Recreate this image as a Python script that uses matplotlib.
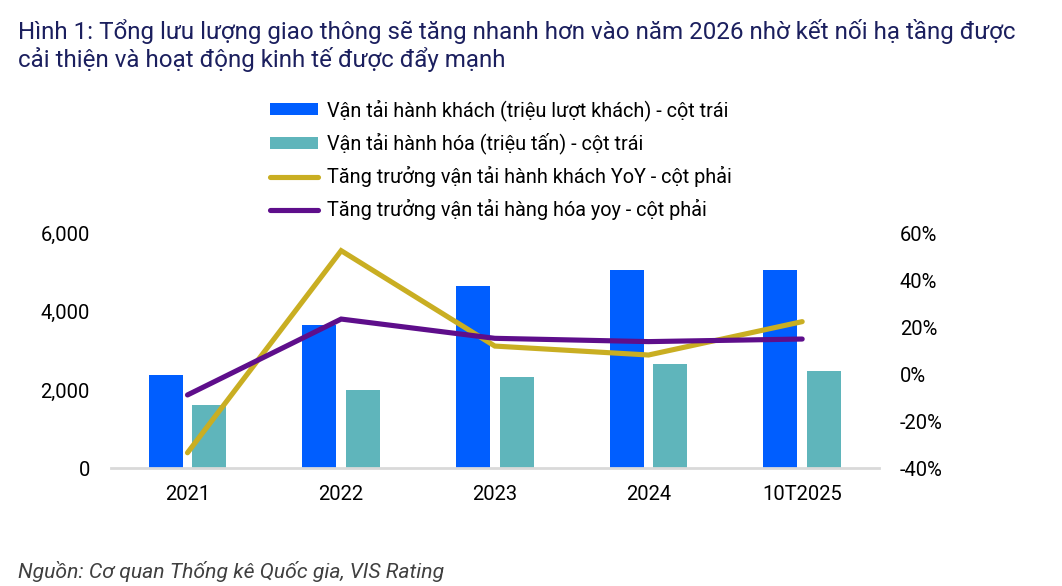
import matplotlib
matplotlib.use("Agg")
import matplotlib.pyplot as plt
import numpy as np
from matplotlib.lines import Line2D
from matplotlib.patches import Patch
from matplotlib.ticker import FuncFormatter

plt.rcParams["font.family"] = ["Roboto", "DejaVu Sans"]

# Data
years = ["2021", "2022", "2023", "2024", "10T2025"]
passengers = [2375, 3650, 4665, 5050, 5065]      # triệu lượt khách
cargo = [1610, 2000, 2330, 2665, 2485]           # triệu tấn
passenger_yoy = [-0.334, 0.526, 0.12, 0.082, 0.224]
cargo_yoy = [-0.088, 0.235, 0.153, 0.139, 0.15]

c_pass = "#005EFF"
c_cargo = "#5FB5BB"
c_gold = "#C9AE22"
c_purple = "#5E0E8B"

fig = plt.figure(figsize=(10.62, 5.86), dpi=100)
ax = fig.add_axes([0.1042, 0.2009, 0.7235, 0.401])
ax2 = ax.twinx()

x = np.arange(len(years))
w = 0.22
ax.bar(x - 0.142, passengers, width=w, color=c_pass, zorder=2)
ax.bar(x + 0.142, cargo, width=w, color=c_cargo, zorder=2)

ax2.plot(x, passenger_yoy, color=c_gold, lw=3.7, solid_capstyle="round", solid_joinstyle="miter")
ax2.plot(x, cargo_yoy, color=c_purple, lw=3.7, solid_capstyle="round", solid_joinstyle="miter")

ax.set_xlim(-0.5, len(years) - 0.5)
ax.set_ylim(0, 6000)
ax.set_yticks([0, 2000, 4000, 6000])
ax.yaxis.set_major_formatter(FuncFormatter(lambda v, p: f"{v:,.0f}"))
ax2.set_ylim(-0.4, 0.6)
ax2.set_yticks([-0.4, -0.2, 0, 0.2, 0.4, 0.6])
ax2.yaxis.set_major_formatter(FuncFormatter(lambda v, p: f"{v*100:.0f}%"))
ax.set_xticks(x)
ax.set_xticklabels(years)

for a in (ax, ax2):
    for s in ("top", "left", "right", "bottom"):
        a.spines[s].set_visible(False)
    a.tick_params(length=0, labelsize=14.5, colors="black")
ax.axhline(0, color="#D9D9D9", lw=2, zorder=3, clip_on=False)
ax.tick_params(axis="y", pad=15)
ax2.tick_params(axis="y", pad=15)
ax.tick_params(axis="x", pad=12)

handles = [
    Patch(facecolor=c_pass, edgecolor="none"),
    Patch(facecolor=c_cargo, edgecolor="none"),
    Line2D([], [], color=c_gold, lw=3.7, solid_capstyle="round"),
    Line2D([], [], color=c_purple, lw=3.7, solid_capstyle="round"),
]
labels = [
    "Vận tải hành khách (triệu lượt khách) - cột trái",
    "Vận tải hành hóa (triệu tấn) - cột trái",
    "Tăng trưởng vận tải hành khách YoY - cột phải",
    "Tăng trưởng vận tải hàng hóa yoy - cột phải",
]
fig.legend(handles, labels, loc="upper left", bbox_to_anchor=(270 / 1062, 1 - 99 / 586),
           frameon=False, fontsize=14.3, handlelength=2.4, handleheight=0.55,
           handletextpad=0.45, labelspacing=0.6, borderaxespad=0, borderpad=0)

fig.text(18 / 1062, 1 - 31 / 586,
         "Hình 1: Tổng lưu lượng giao thông sẽ tăng nhanh hơn vào năm 2026 nhờ kết nối hạ tầng được",
         fontsize=17.4, color="#1B1F5E", va="center", ha="left")
fig.text(18 / 1062, 1 - 59 / 586, "cải thiện và hoạt động kinh tế được đẩy mạnh",
         fontsize=17.4, color="#1B1F5E", va="center", ha="left")
fig.text(18 / 1062, 1 - 572 / 586, "Nguồn: Cơ quan Thống kê Quốc gia, VIS Rating",
         fontsize=15.2, style="italic", color="#404040", va="center", ha="left")

fig.savefig("out.png", dpi=100)
